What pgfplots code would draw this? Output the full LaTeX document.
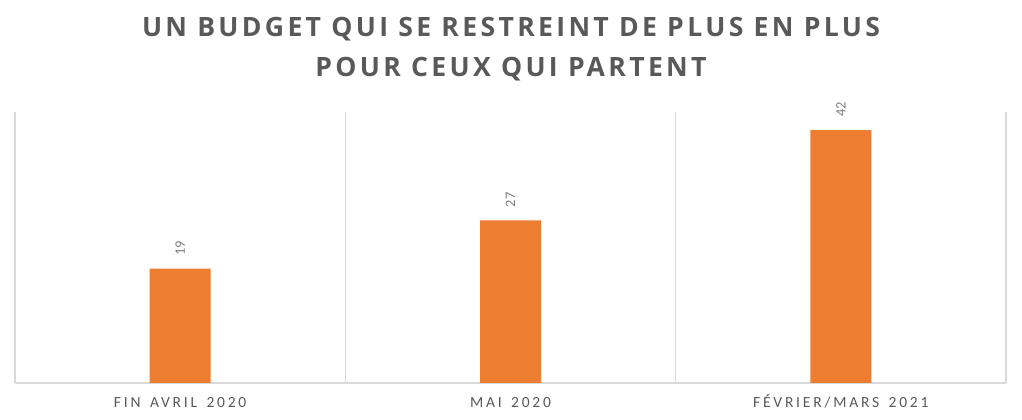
\documentclass[border=0pt]{standalone}
\usepackage{fontspec}
\setmainfont{Carlito}
\newfontfamily\titlefont[LetterSpace=12.5]{Open Sans}
\newfontfamily\tickfont[LetterSpace=18,WordSpace=1.5]{Carlito}
\usepackage{pgfplots}
\pgfplotsset{compat=1.18}
\definecolor{barorange}{HTML}{ED7D31}
\definecolor{gridgray}{HTML}{D9D9D9}
\definecolor{titlegray}{HTML}{595959}
\definecolor{valgray}{HTML}{7F7F7F}
\begin{document}
\begin{tikzpicture}[x=1pt,y=1pt]
\useasboundingbox (0,0) rectangle (1022,420);
\node[anchor=base, text=titlegray, font=\titlefont\bfseries\fontsize{26.6}{30}\selectfont, inner sep=0pt] at (511,383) {UN BUDGET QUI SE RESTREINT DE PLUS EN PLUS};
\node[anchor=base, text=titlegray, font=\titlefont\bfseries\fontsize{26.6}{30}\selectfont, inner sep=0pt] at (511,343) {POUR CEUX QUI PARTENT};
\begin{axis}[
  at={(15pt,37pt)}, anchor=south west,
  scale only axis, width=991pt, height=271pt,
  xmin=-0.5, xmax=2.5, ymin=0, ymax=45,
  axis x line*=bottom, axis y line=none,
  axis line style={draw=gridgray, line width=1.3pt, -},
  xtick={0,1,2},
  xticklabels={FIN AVRIL 2020, MAI 2020, FÉVRIER/MARS 2021},
  minor xtick={-0.5,0.5,1.5,2.5},
  minor x grid style={draw=gridgray, line width=1.3pt},
  xminorgrids=true,
  major tick length=0pt, minor tick length=0pt,
  xticklabel style={anchor=base, yshift=-24pt, inner sep=0pt, text=titlegray, font=\tickfont\fontsize{15.5}{18}\selectfont},
  ybar, bar width=61pt,
  /pgf/number format/assume math mode=true,
  nodes near coords,
  nodes near coords style={font=\fontsize{14.5}{16}\selectfont, text=valgray, rotate=90, anchor=west, inner sep=0pt, xshift=13pt},
  clip=false,
]
\addplot[fill=barorange, draw=none] coordinates {(0,19) (1,27) (2,42)};
\end{axis}
\end{tikzpicture}
\end{document}
